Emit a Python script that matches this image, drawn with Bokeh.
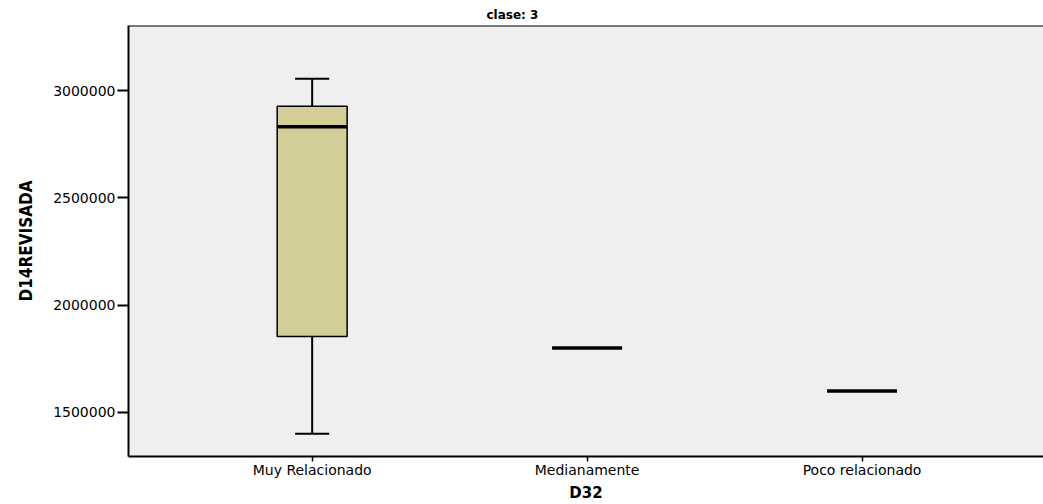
from bokeh.plotting import figure
from bokeh.models import FixedTicker, NumeralTickFormatter, Span
from bokeh.embed import file_html
from bokeh.resources import INLINE

categories = ["Muy Relacionado", "Medianamente", "Poco relacionado"]
lower_whisker = [1400000, 1800000, 1600000]
q1 = [1853700, 1800000, 1600000]
median = [2831000, 1800000, 1600000]
q3 = [2927000, 1800000, 1600000]
upper_whisker = [3055000, 1800000, 1600000]
y_ticks = [1500000, 2000000, 2500000, 3000000]

xs = [i + 1 for i in range(len(categories))]
box_w = 0.2545
cap_w = 0.124
y_top = 3302900

p = figure(width=1043, height=504, output_backend="svg", toolbar_location=None,
           x_range=(0.332, 3.66), y_range=(1294500, y_top),
           min_border_left=128, min_border_right=0, min_border_top=25,
           min_border_bottom=10)

p.background_fill_color = "#efefef"
p.border_fill_color = "white"
p.outline_line_color = None
p.grid.visible = False

# title
p.title.text = "clase: 3"
p.title.align = "left"
p.title.offset = 358
p.title.text_font = "DejaVu Sans"
p.title.text_font_size = "12px"
p.title.text_font_style = "bold"
p.title.text_color = "black"
p.title.standoff = 7

# top border
p.add_layout(Span(location=y_top, dimension="width", line_color="black", line_width=2))

# whiskers
p.segment(x0=xs, x1=xs, y0=lower_whisker, y1=q1, line_color="black", line_width=2)
p.segment(x0=xs, x1=xs, y0=q3, y1=upper_whisker, line_color="black", line_width=2)
p.segment(x0=[x - cap_w / 2 for x in xs], x1=[x + cap_w / 2 for x in xs],
          y0=lower_whisker, y1=lower_whisker, line_color="black", line_width=2)
p.segment(x0=[x - cap_w / 2 for x in xs], x1=[x + cap_w / 2 for x in xs],
          y0=upper_whisker, y1=upper_whisker, line_color="black", line_width=2)
# boxes
p.vbar(x=xs, width=box_w, bottom=q1, top=q3, fill_color="#d3ce97",
       line_color="black", line_width=1.5)
# medians
p.segment(x0=[x - box_w / 2 for x in xs], x1=[x + box_w / 2 for x in xs],
          y0=median, y1=median, line_color="black", line_width=3.5)

# x axis
xa = p.xaxis[0]
xa.ticker = FixedTicker(ticks=xs)
xa.major_label_overrides = {x: c for x, c in zip(xs, categories)}
xa.minor_tick_line_color = None
xa.axis_line_width = 2
xa.major_tick_line_width = 1.5
xa.major_tick_out = 5
xa.major_tick_in = 0
xa.major_label_standoff = 0
xa.major_label_text_font = "DejaVu Sans"
xa.major_label_text_font_size = "14px"
xa.major_label_text_color = "black"
xa.axis_label = "D32"
xa.axis_label_text_font = "DejaVu Sans"
xa.axis_label_text_font_size = "15px"
xa.axis_label_text_font_style = "bold"
xa.axis_label_text_color = "black"
xa.axis_label_standoff = 3

# y axis
ya = p.yaxis[0]
ya.ticker = FixedTicker(ticks=y_ticks)
ya.formatter = NumeralTickFormatter(format="0")
ya.minor_tick_line_color = None
ya.axis_line_width = 2
ya.major_tick_line_width = 2
ya.major_tick_out = 11
ya.major_tick_in = 0
ya.major_label_standoff = 2
ya.major_label_text_font = "DejaVu Sans"
ya.major_label_text_font_size = "14px"
ya.major_label_text_color = "black"
ya.axis_label = "D14REVISADA"
ya.axis_label_text_font = "Liberation Sans Narrow, DejaVu Sans Condensed, sans-serif"
ya.axis_label_text_font_size = "17px"
ya.axis_label_text_font_style = "bold"
ya.axis_label_text_color = "black"
ya.axis_label_standoff = 14

open("out.html", "w").write(file_html(p, INLINE))
